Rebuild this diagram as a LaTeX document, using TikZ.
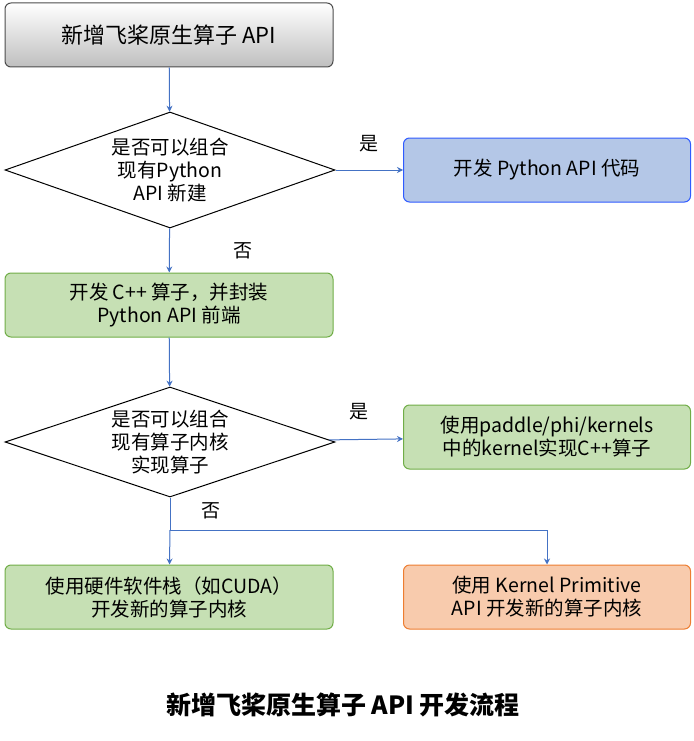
\documentclass[tikz,border=0pt]{standalone}
\usepackage{fontspec}
\setmainfont{Noto Sans CJK SC}
\usetikzlibrary{shapes.geometric,positioning,arrows.meta}
\definecolor{arrowblue}{HTML}{4472C4}
\definecolor{boxgreen}{HTML}{C6E0B4}
\definecolor{edgegreen}{HTML}{70AD47}
\definecolor{boxblue}{HTML}{B4C7E7}
\definecolor{edgeblue}{HTML}{2F5BFF}
\definecolor{boxorange}{HTML}{F8CBAD}
\definecolor{edgeorange}{HTML}{ED7D31}
\tikzset{
  box/.style={rounded corners=6pt, minimum width=328pt, minimum height=64pt, align=center, font=\fontsize{19.5}{23}\selectfont, line width=1pt},
  greenbox/.style={box, fill=boxgreen, draw=edgegreen},
  decision/.style={diamond, draw=black, line width=1pt, minimum width=330pt, minimum height=116pt, aspect=2.8, inner sep=0pt, align=center, font=\fontsize{19.5}{23}\selectfont},
  flow/.style={draw=arrowblue, line width=1pt, -{Stealth[length=6pt,width=6pt]}},
  tag/.style={font=\fontsize{19}{23}\selectfont}
}
\begin{document}
\begin{tikzpicture}[x=1pt,y=-1pt]
\useasboundingbox (0,0) rectangle (693,741);
\node[box, draw=black!70, top color=white, bottom color=black!25, font=\fontsize{22}{26}\selectfont] (start) at (169,35) {新增飞桨原生算子 API};
\node[decision] (combpy) at (170,170) {是否可以组合\\现有Python\\API 新建};
\node[box, minimum width=287pt, fill=boxblue, draw=edgeblue] (pyapi) at (547,170) {开发 Python API 代码};
\node[greenbox] (cpp) at (169,305) {开发 C++ 算子，并封装\\Python API 前端};
\node[decision, minimum height=110pt] (combk) at (170,442) {是否可以组合\\现有算子内核\\实现算子};
\node[greenbox, minimum width=287pt] (phik) at (547,437) {使用paddle/phi/kernels\\中的kernel实现C++算子};
\node[greenbox] (hw) at (169,597) {使用硬件软件栈（如CUDA）\\开发新的算子内核};
\node[box, minimum width=287pt, fill=boxorange, draw=edgeorange] (kprim) at (547,597) {使用 Kernel Primitive\\API 开发新的算子内核};
\node[font=\fontsize{25}{30}\selectfont\bfseries] (title) at (343,705) {新增飞桨原生算子 API 开发流程};
\coordinate (split) at (170,530);
% connectors
\draw[flow] (start) -- (combpy);
\draw[flow] (combpy) -- node[tag, pos=0.5, above=14pt] {是} (pyapi);
\draw[flow] (combpy) -- node[tag, right=60pt] {否} (cpp);
\draw[flow] (cpp) -- (combk);
\draw[flow] (combk) -- node[tag, pos=0.4, above=16pt] {是} (phik);
\draw[draw=arrowblue, line width=1pt] (combk) -- node[tag, right=28pt, pos=0.4] {否} (split);
\draw[flow] (split) -- (hw);
\draw[flow] (split) -| (kprim);
\end{tikzpicture}
\end{document}
